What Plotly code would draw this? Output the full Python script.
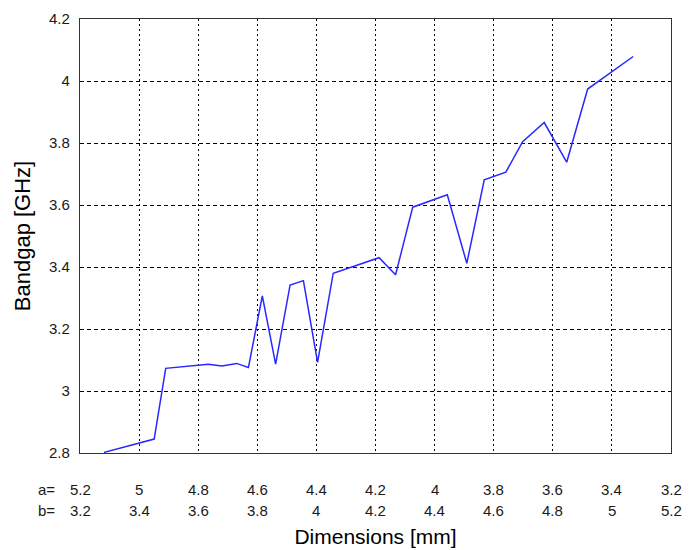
import plotly.graph_objects as go

# Data (x expressed in b [mm]; a = 8.4 - b)
b_mm = [3.281, 3.451, 3.490, 3.595, 3.634, 3.680, 3.730, 3.770, 3.817, 3.862,
        3.911, 3.956, 4.004, 4.057, 4.212, 4.268, 4.326, 4.443, 4.509, 4.568,
        4.641, 4.698, 4.771, 4.847, 4.918, 5.072]
bandgap_ghz = [2.802, 2.845, 3.073, 3.081, 3.086, 3.081, 3.089, 3.076, 3.307, 3.087,
               3.342, 3.356, 3.092, 3.380, 3.430, 3.375, 3.593, 3.633, 3.412, 3.681,
               3.706, 3.804, 3.866, 3.738, 3.974, 4.079]

tick_b = [3.2, 3.4, 3.6, 3.8, 4.0, 4.2, 4.4, 4.6, 4.8, 5.0, 5.2]
a_labels = ["5.2", "5", "4.8", "4.6", "4.4", "4.2", "4", "3.8", "3.6", "3.4", "3.2"]
b_labels = ["3.2", "3.4", "3.6", "3.8", "4", "4.2", "4.4", "4.6", "4.8", "5", "5.2"]
y_ticks = [2.8, 3.0, 3.2, 3.4, 3.6, 3.8, 4.0, 4.2]
y_labels = ["2.8", "3", "3.2", "3.4", "3.6", "3.8", "4", "4.2"]

FONT = "Liberation Sans, Arial, sans-serif"
TXT = "#1a1a1a"

fig = go.Figure()
fig.add_trace(go.Scatter(x=b_mm, y=bandgap_ghz, mode="lines",
                         line=dict(color="rgb(40,40,255)", width=1.5),
                         showlegend=False, hoverinfo="skip"))

annotations = []
for xv, la, lb in zip(tick_b, a_labels, b_labels):
    annotations.append(dict(x=xv, y=0, xref="x", yref="paper", text=la, showarrow=False,
                            xanchor="center", yanchor="middle", yshift=-36,
                            font=dict(family=FONT, size=15, color=TXT)))
    annotations.append(dict(x=xv, y=0, xref="x", yref="paper", text=lb, showarrow=False,
                            xanchor="center", yanchor="middle", yshift=-57,
                            font=dict(family=FONT, size=15, color=TXT)))
annotations.append(dict(x=0, y=0, xref="paper", yref="paper", text="a=", showarrow=False,
                        xanchor="right", yanchor="middle", yshift=-36, xshift=-23,
                        font=dict(family=FONT, size=15, color=TXT)))
annotations.append(dict(x=0, y=0, xref="paper", yref="paper", text="b=", showarrow=False,
                        xanchor="right", yanchor="middle", yshift=-57, xshift=-23,
                        font=dict(family=FONT, size=15, color=TXT)))

fig.update_layout(
    width=697, height=550,
    margin=dict(l=80, r=26, t=19, b=97),
    paper_bgcolor="white", plot_bgcolor="white",
    font=dict(family=FONT, color=TXT),
    annotations=annotations,
    xaxis=dict(range=[3.2, 5.2], tickvals=tick_b, showticklabels=False, automargin=False,
               showgrid=True, gridcolor="black", gridwidth=1, griddash="2px,3px",
               showline=True, linecolor="#333", linewidth=1.2, mirror=True,
               zeroline=False, ticks="",
               title=dict(text="Dimensions [mm]", font=dict(family=FONT, size=21, color="black"),
                          standoff=76)),
    yaxis=dict(range=[2.8, 4.2], tickvals=y_ticks, ticktext=y_labels, automargin=False,
               showgrid=True, gridcolor="black", gridwidth=1, griddash="4px,3px",
               showline=True, linecolor="#333", linewidth=1.2, mirror=True,
               zeroline=False, ticks="", ticklabelstandoff=6,
               tickfont=dict(family=FONT, size=15, color=TXT),
               title=dict(text="Bandgap [GHz]", font=dict(family=FONT, size=22, color="black"),
                          standoff=12)),
)

fig.write_html("out.html")
